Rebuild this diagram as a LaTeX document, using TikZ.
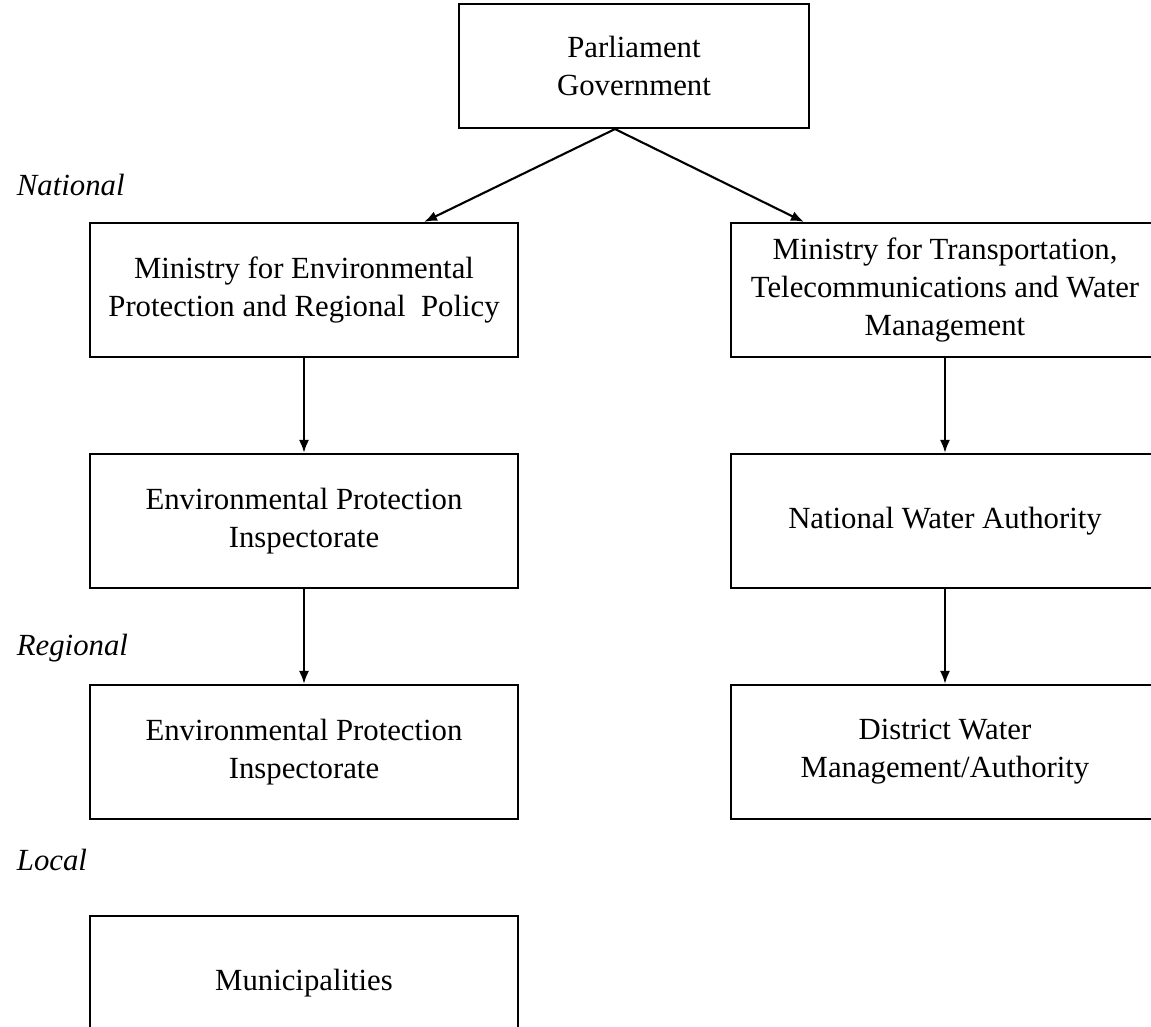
\documentclass[tikz,border=0pt]{standalone}
\usepackage{fontspec}
\setmainfont{Liberation Serif}
\usepackage{tikz}
\usetikzlibrary{positioning}
\usetikzlibrary{calc}
\usetikzlibrary{arrows.meta}
\tikzset{every picture/.style={line width=1.2pt},
  unit/.style={draw, align=center, minimum width=8.56cm, minimum height=2.68cm, inner sep=0pt},
  tier/.style={anchor=base west, font=\fontsize{17.5}{21.5}\selectfont\itshape},
  feed/.style={-{Latex[length=0.26cm,width=0.2cm]}}}

\begin{document}
\begin{tikzpicture}[font=\fontsize{17.5}{21.5}\selectfont]
    \clip (0,0) rectangle (23.02,-20.54);

    \node (gov) [draw, align=center, minimum width=7cm, minimum height=2.48cm] at (12.68,-1.32) {Parliament\\Government};

    \node (envmin) [unit] at (6.08,-5.80) {Ministry for Environmental\\Protection and Regional\ \ Policy};
    \node (transmin) [unit, right of=envmin, node distance=12.82cm] {Ministry for Transportation,\\Telecommunications and Water\\Management};

    \node (epinsp) [unit, below of=envmin, node distance=4.62cm] {Environmental Protection\\Inspectorate};
    \node (nwa) [unit, below of=transmin, node distance=4.62cm] {National Water Authority};

    \node (epreg) [unit, below of=epinsp, node distance=4.62cm] {Environmental Protection\\Inspectorate};
    \node (dwm) [unit, below of=nwa, node distance=4.62cm] {District Water\\Management/Authority};

    \node (muni) [unit, below of=epreg, node distance=4.62cm] {Municipalities};

    \node (national) [tier] at (0.2,-3.90) {National};
    \node (regional) [tier] at (0.2,-13.10) {Regional};
    \node (local) [tier] at (0.2,-17.40) {Local};

    \coordinate (apex) at ([xshift=-0.38cm]gov.south);
    \draw[feed] (apex) -- ([xshift=-1.9cm]envmin.north east);
    \draw[feed] (apex) -- ([xshift=1.48cm]transmin.north west);

    \draw[feed] (envmin) -- (epinsp);
    \draw[feed] (epinsp) -- (epreg);
    \draw[feed] (transmin) -- (nwa);
    \draw[feed] (nwa) -- (dwm);
\end{tikzpicture}
\end{document}
